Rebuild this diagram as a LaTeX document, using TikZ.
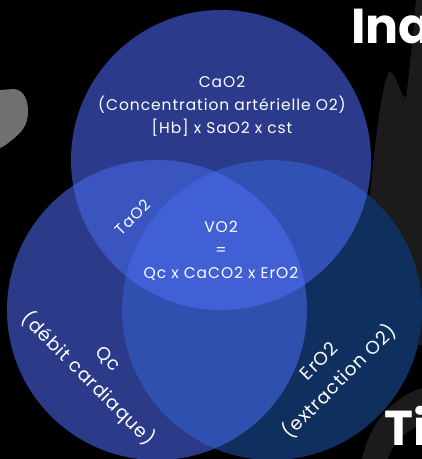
\documentclass[tikz,border=0pt]{standalone}
\usepackage{fontspec}
\setmainfont{Poppins}
\newfontfamily\lblfont[LetterSpace=6]{Poppins}
\newfontfamily\rotfont[LetterSpace=5]{Poppins}
\definecolor{cTop}{HTML}{2C3A8C}
\definecolor{cLeft}{HTML}{2C3A8A}
\definecolor{cRight}{HTML}{0F2F5E}
\definecolor{cTL}{HTML}{3A55C0}
\definecolor{cTR}{HTML}{3151B4}
\definecolor{cLR}{HTML}{3050B0}
\definecolor{cMid}{HTML}{4160D6}
\definecolor{bgdark}{HTML}{1B1B1B}
\definecolor{blob}{HTML}{707070}
\begin{document}
\begin{tikzpicture}[x=1pt,y=-1pt,
  lbl/.style={text=white,font=\lblfont\fontsize{15.5}{23}\selectfont,align=center,inner sep=0pt},
  rlbl/.style={text=white,font=\rotfont\fontsize{18.5}{28.5}\selectfont,align=center,inner sep=0pt},
  big/.style={text=white,font=\fontsize{49}{49}\selectfont\bfseries,inner sep=0pt}]
\fill[black] (0,0) rectangle (422,459);
\useasboundingbox (0,0) rectangle (422,459);
% background decorations
\fill[blob] (0,90) -- (14,89) .. controls (24,90) and (28,100) .. (28,112)
  .. controls (28,125) and (22,132) .. (12,140) .. controls (7,144) and (3,147) .. (0,148) -- cycle;
\fill[bgdark] (368,220) .. controls (374,140) and (384,72) .. (390,72)
  .. controls (396,72) and (400,96) .. (406,98) .. controls (411,60) and (414,20) .. (416,0)
  -- (422,0) -- (422,345) -- (368,345) -- cycle;
\fill[bgdark] (362,459) .. controls (370,425) and (388,400) .. (422,388) -- (422,425)
  .. controls (402,432) and (392,445) .. (388,459) -- cycle;
\node[big,anchor=base west] (ina) at (351,43) {Ina};
\node[big,anchor=base west] (ti) at (384,445) {Ti};
% circles
\coordinate (T) at (221,160);
\coordinate (L) at (157,310);
\coordinate (R) at (272,310);
\def\rr{150}
\fill[cTop] (T) circle (\rr);
\fill[cLeft] (L) circle (\rr);
\fill[cRight] (R) circle (\rr);
\begin{scope}
  \clip (T) circle (\rr);
  \fill[cTL] (L) circle (\rr);
  \fill[cTR] (R) circle (\rr);
\end{scope}
\begin{scope}
  \clip (L) circle (\rr);
  \fill[cLR] (R) circle (\rr);
  \clip (T) circle (\rr);
  \fill[cMid] (R) circle (\rr);
\end{scope}
% labels
\node[lbl] (cao2) at (222,106) {CaO2\\(Concentration artérielle O2)\\{[Hb]} x SaO2 x cst};
\node[lbl] (vo2) at (221,251) {VO2\\=\\Qc x CaCO2 x ErO2};
\node[lbl,rotate=45] (tao2) at (133,217) {TaO2};
\node[rlbl,rotate=-45] (qc) at (97,370) {Qc\\(débit cardiaque)};
\node[rlbl,rotate=45] (ero2) at (330,372) {ErO2\\(extraction O2)};
\end{tikzpicture}
\end{document}
